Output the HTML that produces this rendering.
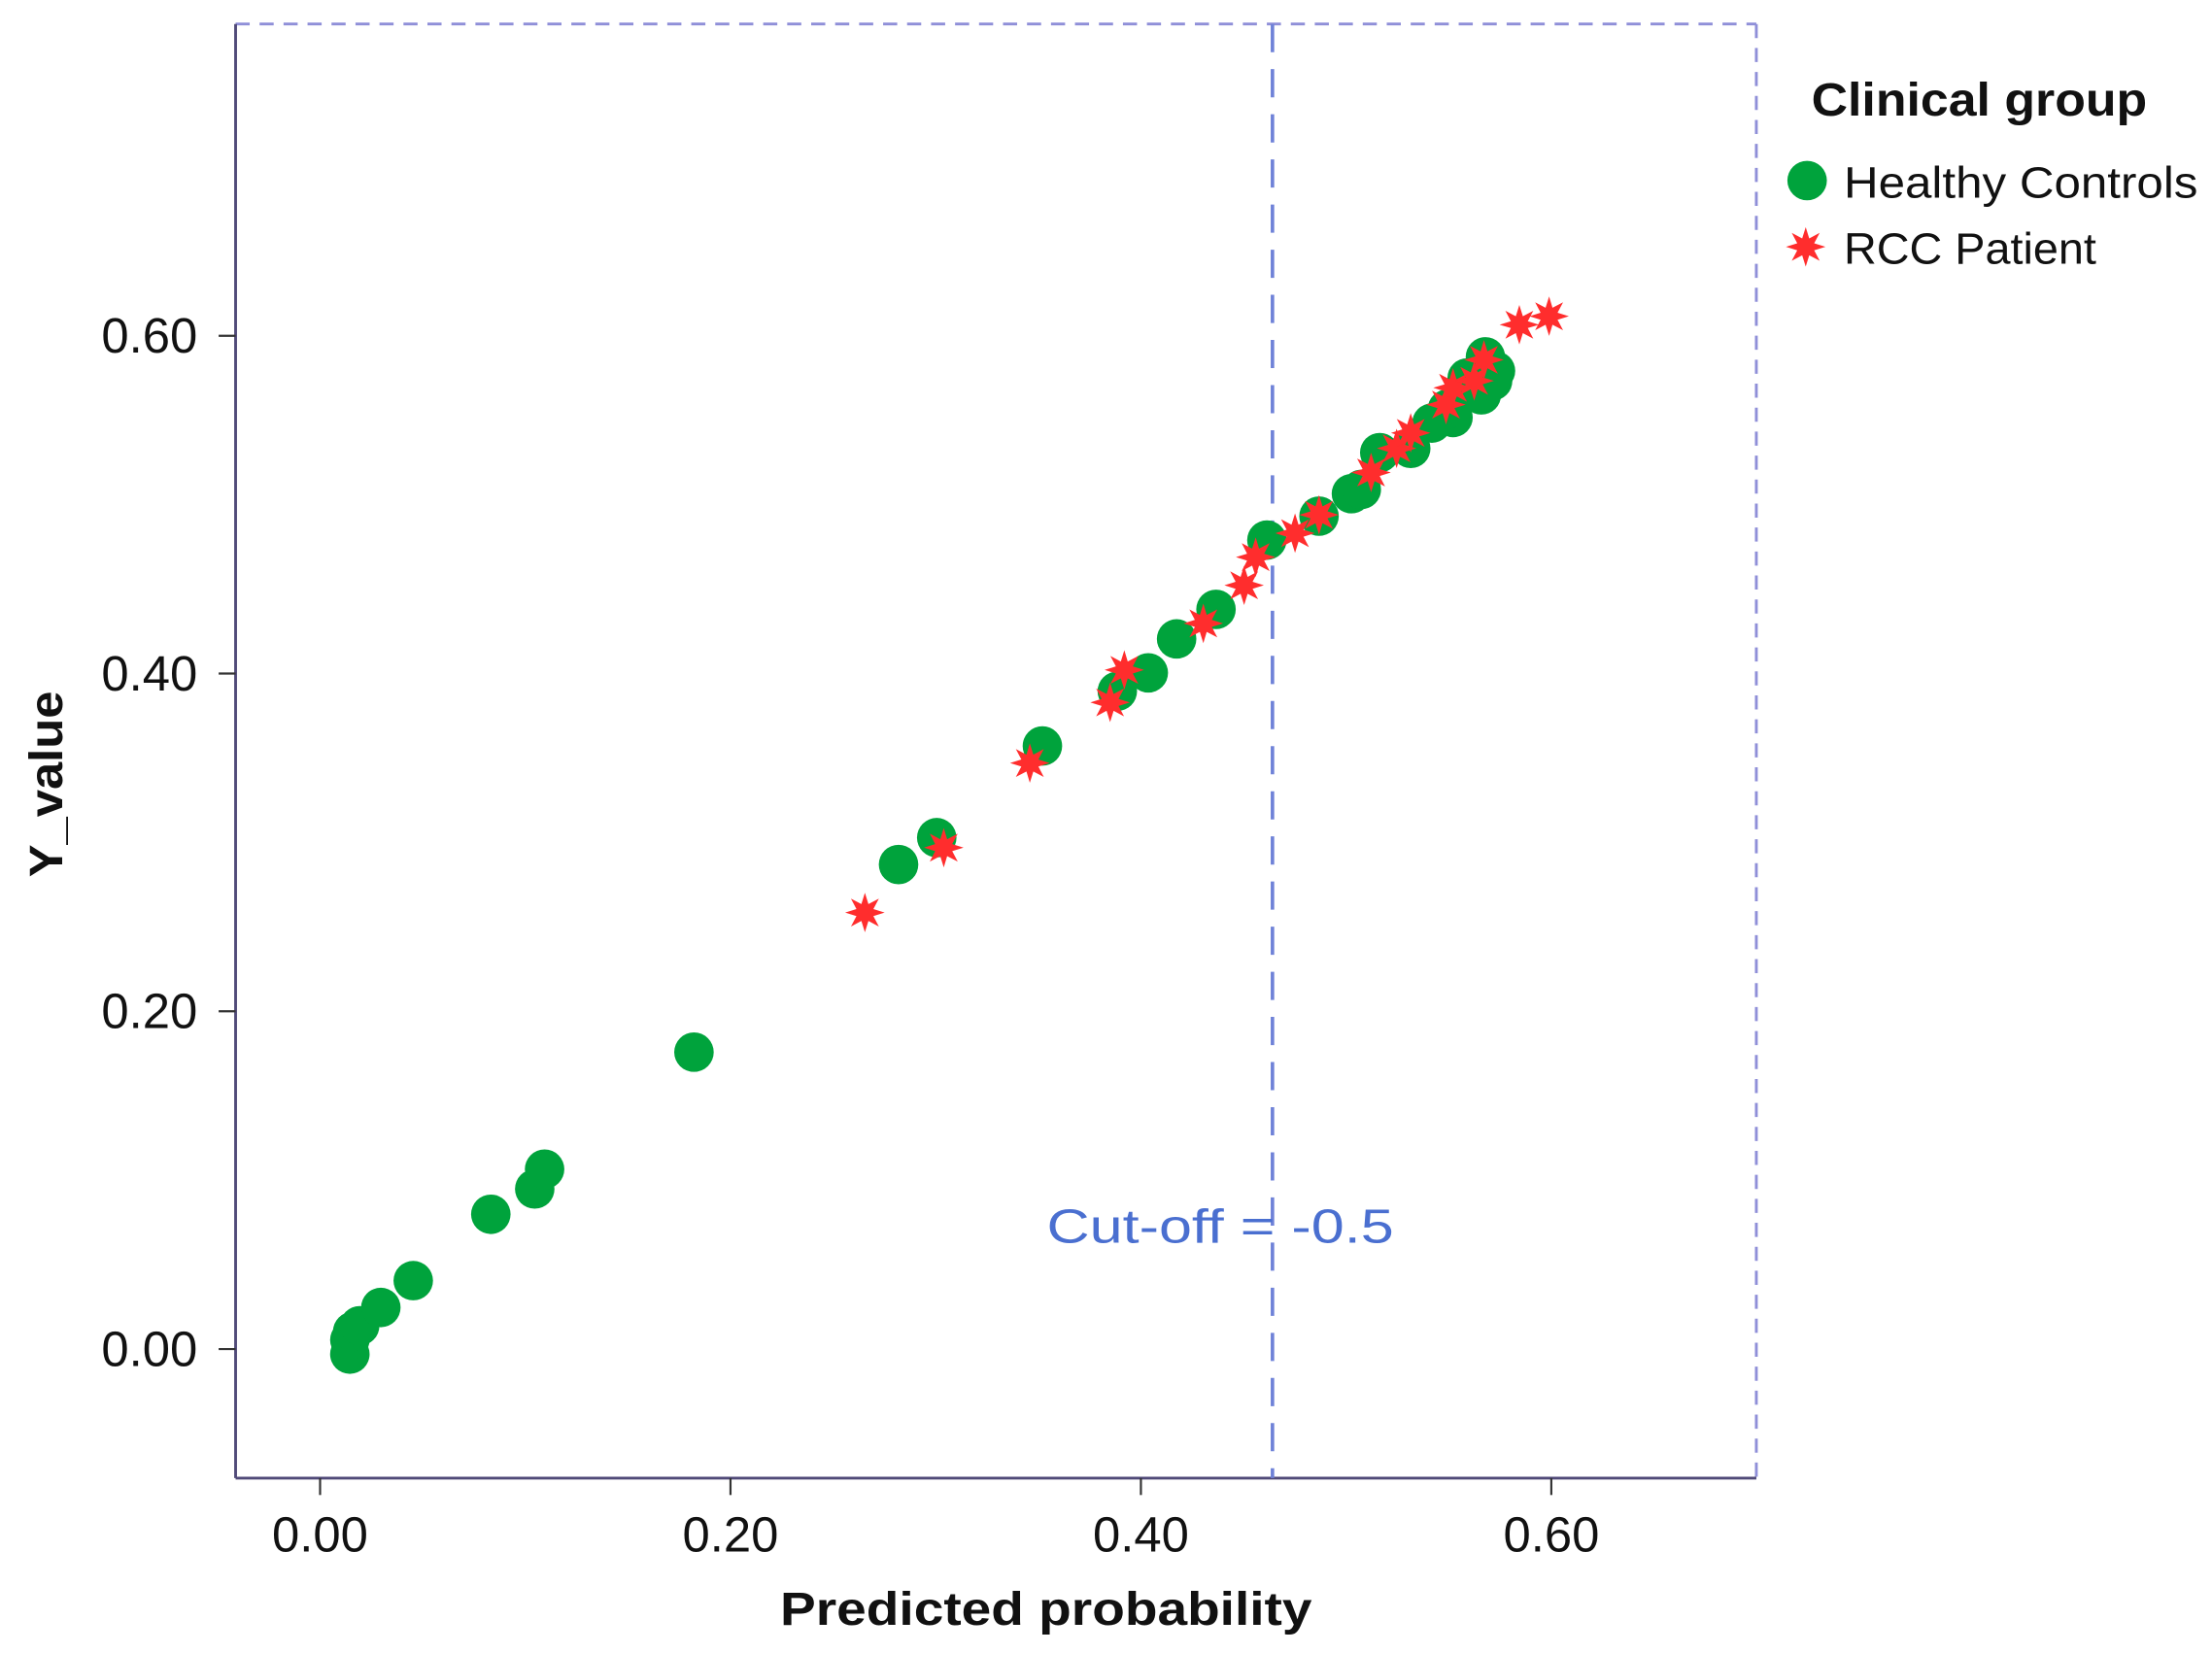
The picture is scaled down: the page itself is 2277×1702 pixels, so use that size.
<!DOCTYPE html>
<html><head><meta charset="utf-8"><style>
html,body{margin:0;padding:0;background:#fff;}
svg{display:block;}
text{font-family:"Liberation Sans",sans-serif;}
</style></head><body>
<svg id="chart" width="2277" height="1702" viewBox="0 0 1568 1172" xmlns="http://www.w3.org/2000/svg">
<rect width="1568" height="1172" fill="#fff"/>
<g id="frame">
<line x1="167" y1="17" x2="1245" y2="17" stroke="#8f8fd8" stroke-width="2" stroke-dasharray="10,7"/>
<line x1="1245" y1="17" x2="1245" y2="1048" stroke="#8f8fd8" stroke-width="2" stroke-dasharray="10,7"/>
<line x1="167" y1="17" x2="167" y2="1048" stroke="#504a78" stroke-width="2"/>
<line x1="167" y1="1048" x2="1245" y2="1048" stroke="#504a78" stroke-width="2"/>
<line x1="902" y1="17" x2="902" y2="1048" stroke="#6f82d8" stroke-width="2.5" stroke-dasharray="20,12"/>
<text x="742" y="881" font-size="34" fill="#4a6fd0" textLength="246" lengthAdjust="spacingAndGlyphs">Cut-off = -0.5</text>
</g>
<g id="axes"></g>
<g id="marks"></g>
<text x="553" y="1152" font-size="33" font-weight="bold" fill="#111" textLength="377" lengthAdjust="spacingAndGlyphs">Predicted probability</text>
<text transform="translate(44,622) rotate(-90)" font-size="33" font-weight="bold" fill="#111" textLength="132" lengthAdjust="spacingAndGlyphs">Y_value</text>
<g>
<text x="1284" y="82" font-size="33" font-weight="bold" fill="#111" textLength="238" lengthAdjust="spacingAndGlyphs">Clinical group</text>
<circle cx="1281" cy="128" r="14" fill="#00a33c"/>
<text x="1307" y="140" font-size="31" fill="#111" textLength="251" lengthAdjust="spacingAndGlyphs">Healthy Controls</text>
<polygon id="legstar" fill="#ff2d2d"/>
<text x="1307" y="187" font-size="31" fill="#111" textLength="179" lengthAdjust="spacingAndGlyphs">RCC Patient</text>
</g>
</svg>
<script>
const xTicks = [0, 0.2, 0.4, 0.6];
const xTickLabels = ["0.00", "0.20", "0.40", "0.60"];
const yTicks = [0, 0.2, 0.4, 0.6];
const yTickLabels = ["0.00", "0.20", "0.40", "0.60"];
const healthyX = [0.0145,0.0145,0.0159,0.0193,0.0296,0.0454,0.0832,0.1046,0.1094,0.1822,0.2819,0.3005,0.3520,0.3885,0.4036,0.4174,0.4366,0.4614,0.4868,0.5026,0.5074,0.5164,0.5315,0.5521,0.5494,0.5590,0.5679,0.5728,0.5659,0.5418,0.5714];
const healthyY = [-0.003,0.0054,0.0104,0.0138,0.0246,0.0405,0.0798,0.0948,0.1065,0.1758,0.2869,0.3028,0.3571,0.3895,0.4004,0.4205,0.4380,0.4790,0.4932,0.5065,0.5090,0.5308,0.5333,0.5516,0.5566,0.5750,0.5875,0.5792,0.5650,0.5483,0.5733];
const rccX = [0.2655,0.3039,0.3459,0.3850,0.3919,0.4304,0.4503,0.4559,0.4751,0.4868,0.5122,0.5246,0.5315,0.5487,0.5521,0.5624,0.5672,0.5844,0.5989];
const rccY = [0.2585,0.2969,0.3470,0.3829,0.4021,0.4297,0.4522,0.4689,0.4831,0.4940,0.5190,0.5333,0.5425,0.5592,0.5692,0.5733,0.5858,0.6066,0.6116];

const NS = "http://www.w3.org/2000/svg";
function xs(v){ return 226.9 + v * 1454.6; }
function ys(v){ return 956.5 - v * 1197.4; }
function starPts(cx, cy, ro, ri){
  const p = [];
  for (let i = 0; i < 16; i++) {
    const a = Math.PI * i / 8 - Math.PI / 2;
    const r = i % 2 ? ri : ro;
    p.push((cx + r * Math.cos(a)).toFixed(1) + "," + (cy + r * Math.sin(a)).toFixed(1));
  }
  return p.join(" ");
}
document.getElementById("legstar").setAttribute("points", starPts(1280, 175, 14, 6.5));
const axes = document.getElementById("axes");
xTicks.forEach((t, i) => {
  const l = document.createElementNS(NS, "line");
  l.setAttribute("x1", xs(t)); l.setAttribute("x2", xs(t));
  l.setAttribute("y1", 1048); l.setAttribute("y2", 1060);
  l.setAttribute("stroke", "#333"); l.setAttribute("stroke-width", "1.5");
  
  
  axes.appendChild(l);
  const tx = document.createElementNS(NS, "text");
  tx.setAttribute("x", xs(t)); tx.setAttribute("y", 1100);
  tx.setAttribute("font-size", "35"); tx.setAttribute("text-anchor", "middle"); tx.setAttribute("fill", "#111");
  tx.textContent = xTickLabels[i];
  
  
  axes.appendChild(tx);
});
yTicks.forEach((t, i) => {
  const l = document.createElementNS(NS, "line");
  l.setAttribute("x1", 155); l.setAttribute("x2", 167);
  l.setAttribute("y1", ys(t)); l.setAttribute("y2", ys(t));
  l.setAttribute("stroke", "#333"); l.setAttribute("stroke-width", "1.5");
  
  
  axes.appendChild(l);
  const tx = document.createElementNS(NS, "text");
  tx.setAttribute("x", 140); tx.setAttribute("y", ys(t) + 12);
  tx.setAttribute("font-size", "35"); tx.setAttribute("text-anchor", "end"); tx.setAttribute("fill", "#111");
  tx.textContent = yTickLabels[i];
  
  
  axes.appendChild(tx);
});
const marks = document.getElementById("marks");
healthyX.forEach((v, i) => {
  const c = document.createElementNS(NS, "circle");
  c.setAttribute("cx", xs(v)); c.setAttribute("cy", ys(healthyY[i])); c.setAttribute("r", 14);
  c.setAttribute("fill", "#00a33c");
  
  
  marks.appendChild(c);
});
rccX.forEach((v, i) => {
  const s = document.createElementNS(NS, "polygon");
  s.setAttribute("points", starPts(xs(v), ys(rccY[i]), 14, 6.5));
  s.setAttribute("fill", "#ff2d2d");
  
  
  marks.appendChild(s);
});
</script>
</body></html>
